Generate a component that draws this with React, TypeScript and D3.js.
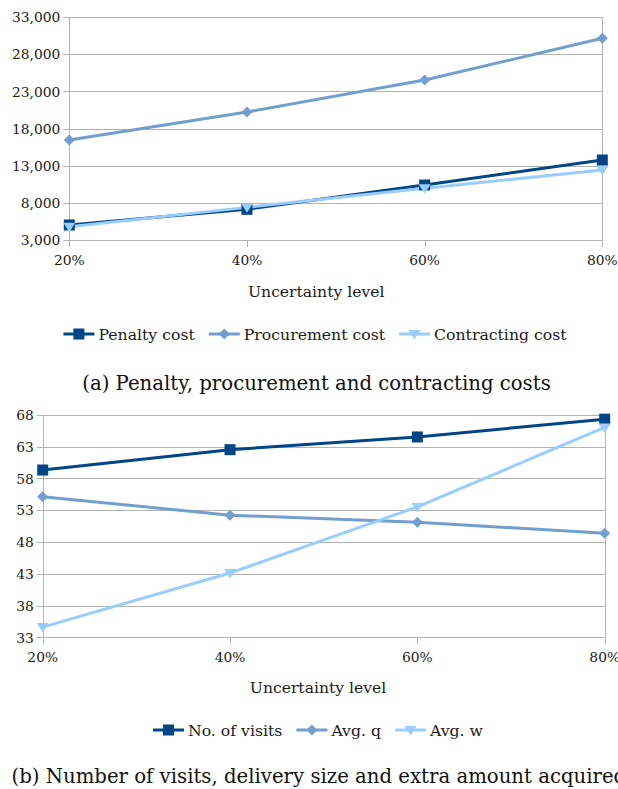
import React, { useEffect, useRef } from "react";
import * as d3 from "d3";

// Shared x categories
const levels = ["20%", "40%", "60%", "80%"];

// Panel (a): costs
const penaltyCost = [5020, 7130, 10400, 13760];
const procurementCost = [16450, 20220, 24520, 30130];
const contractingCost = [4790, 7390, 9950, 12420];
const costTicks = [3000, 8000, 13000, 18000, 23000, 28000, 33000];

// Panel (b): visits and quantities
const visits = [59.3, 62.5, 64.5, 67.3];
const avgQ = [55.1, 52.2, 51.1, 49.35];
const avgW = [34.6, 43.1, 53.5, 66.0];
const qtyTicks = [33, 38, 43, 48, 53, 58, 63, 68];

const xLabel = "Uncertainty level";
const captionA = "(a) Penalty, procurement and contracting costs";
const captionB = "(b) Number of visits, delivery size and extra amount acquired";

const DARK = "#004586";
const MID = "#729fcf";
const LIGHT = "#99ccff";
const GRID = "#b3b3b3";
const FONT = "DejaVu Serif";

type Marker = "square" | "diamond" | "triangle";
interface Series {
  name: string;
  values: number[];
  color: string;
  marker: Marker;
}

interface PanelCfg {
  left: number;
  right: number;
  top: number;
  bottom: number;
  ticks: number[];
  tickFormat: (v: number) => string;
  series: Series[];
  xLabelX: number;
  xLabelY: number;
  legendCx: number;
  legendY: number;
  caption: string;
  captionX: number;
  captionY: number;
  captionAnchor: string;
}

function drawMarker(
  g: d3.Selection<SVGGElement, unknown, null, undefined>,
  kind: Marker,
  x: number,
  y: number,
  color: string
) {
  if (kind === "square") {
    g.append("rect")
      .attr("x", x - 5.5)
      .attr("y", y - 5.5)
      .attr("width", 11)
      .attr("height", 11)
      .attr("fill", color);
  } else if (kind === "diamond") {
    g.append("path")
      .attr("d", `M${x},${y - 5.5}L${x + 5.5},${y}L${x},${y + 5.5}L${x - 5.5},${y}Z`)
      .attr("fill", color);
  } else {
    g.append("path")
      .attr("d", `M${x - 6},${y - 4}L${x + 6},${y - 4}L${x},${y + 5.5}Z`)
      .attr("fill", color);
  }
}

function drawPanel(
  svg: d3.Selection<SVGSVGElement, unknown, null, undefined>,
  cfg: PanelCfg
) {
  const g = svg.append("g");
  const x = d3.scalePoint<string>().domain(levels).range([cfg.left, cfg.right]);
  const y = d3
    .scaleLinear()
    .domain([cfg.ticks[0], cfg.ticks[cfg.ticks.length - 1]])
    .range([cfg.bottom, cfg.top]);

  // horizontal gridlines
  g.selectAll("line.grid")
    .data(cfg.ticks)
    .join("line")
    .attr("x1", cfg.left)
    .attr("x2", cfg.right)
    .attr("y1", (d) => Math.round(y(d)) + 0.5)
    .attr("y2", (d) => Math.round(y(d)) + 0.5)
    .attr("stroke", GRID)
    .attr("stroke-width", 1);

  // left axis and right border
  [cfg.left, cfg.right].forEach((px) => {
    g.append("line")
      .attr("x1", Math.round(px) + 0.5)
      .attr("x2", Math.round(px) + 0.5)
      .attr("y1", cfg.top)
      .attr("y2", cfg.bottom)
      .attr("stroke", GRID);
  });

  // y ticks and labels
  cfg.ticks.forEach((t) => {
    const py = Math.round(y(t)) + 0.5;
    g.append("line")
      .attr("x1", cfg.left - 6)
      .attr("x2", cfg.left)
      .attr("y1", py)
      .attr("y2", py)
      .attr("stroke", GRID);
    g.append("text")
      .attr("x", cfg.left - 9)
      .attr("y", y(t) + 5.2)
      .attr("text-anchor", "end")
      .attr("font-family", FONT)
      .attr("font-size", 13.8)
      .attr("fill", "#1a1a1a")
      .text(cfg.tickFormat(t));
  });

  // x ticks and labels
  levels.forEach((l) => {
    const px = Math.round(x(l)!) + 0.5;
    g.append("line")
      .attr("x1", px)
      .attr("x2", px)
      .attr("y1", cfg.bottom)
      .attr("y2", cfg.bottom + 7)
      .attr("stroke", GRID);
    g.append("text")
      .attr("x", x(l)!)
      .attr("y", cfg.bottom + 24.5)
      .attr("text-anchor", "middle")
      .attr("font-family", FONT)
      .attr("font-size", 13.8)
      .attr("fill", "#1a1a1a")
      .text(l);
  });

  // series lines and markers
  const line = d3
    .line<number>()
    .x((_, i) => x(levels[i])!)
    .y((d) => y(d));
  cfg.series.forEach((s) => {
    g.append("path")
      .attr("d", line(s.values))
      .attr("fill", "none")
      .attr("stroke", s.color)
      .attr("stroke-width", 3)
      .attr("stroke-linejoin", "round");
  });
  cfg.series.forEach((s) => {
    s.values.forEach((v, i) => drawMarker(g, s.marker, x(levels[i])!, y(v), s.color));
  });

  // axis title
  g.append("text")
    .attr("x", cfg.xLabelX)
    .attr("y", cfg.xLabelY)
    .attr("text-anchor", "middle")
    .attr("font-family", FONT)
    .attr("font-size", 15.6)
    .attr("fill", "#1a1a1a")
    .text(xLabel);

  // legend: measure items, then center the row
  const lg = g.append("g");
  const items = cfg.series.map((s) => {
    const ig = lg.append("g");
    ig.append("line")
      .attr("x1", 0)
      .attr("x2", 31)
      .attr("y1", cfg.legendY)
      .attr("y2", cfg.legendY)
      .attr("stroke", s.color)
      .attr("stroke-width", 3);
    drawMarker(ig, s.marker, 15.5, cfg.legendY, s.color);
    const t = ig
      .append("text")
      .attr("x", 35)
      .attr("y", cfg.legendY + 5.8)
      .attr("font-family", FONT)
      .attr("font-size", 15.7)
      .attr("fill", "#1a1a1a")
      .text(s.name);
    const w = 35 + (t.node() as SVGTextElement).getComputedTextLength();
    return { ig, w };
  });
  const gap = 14;
  const total = items.reduce((a, b) => a + b.w, 0) + gap * (items.length - 1);
  let cx = cfg.legendCx - total / 2;
  items.forEach((it) => {
    it.ig.attr("transform", `translate(${cx},0)`);
    cx += it.w + gap;
  });

  // caption
  g.append("text")
    .attr("x", cfg.captionX)
    .attr("y", cfg.captionY)
    .attr("text-anchor", cfg.captionAnchor)
    .attr("font-family", FONT)
    .attr("font-size", 19.7)
    .attr("fill", "#111")
    .text(cfg.caption);
}

export default function App() {
  const ref = useRef<SVGSVGElement>(null);
  useEffect(() => {
    if (!ref.current) return;
    const svg = d3.select(ref.current);
    svg.selectAll("*").remove();
    svg.append("rect").attr("width", 618).attr("height", 789).attr("fill", "#fff");

    drawPanel(svg, {
      left: 69.3,
      right: 602.3,
      top: 17,
      bottom: 240,
      ticks: costTicks,
      tickFormat: d3.format(","),
      series: [
        { name: "Penalty cost", values: penaltyCost, color: DARK, marker: "square" },
        { name: "Procurement cost", values: procurementCost, color: MID, marker: "diamond" },
        { name: "Contracting cost", values: contractingCost, color: LIGHT, marker: "triangle" },
      ],
      xLabelX: 316.2,
      xLabelY: 296.7,
      legendCx: 315,
      legendY: 334,
      caption: captionA,
      captionX: 316.5,
      captionY: 390,
      captionAnchor: "middle",
    });

    drawPanel(svg, {
      left: 42.7,
      right: 604.7,
      top: 414.7,
      bottom: 637.3,
      ticks: qtyTicks,
      tickFormat: d3.format("d"),
      series: [
        { name: "No. of visits", values: visits, color: DARK, marker: "square" },
        { name: "Avg. q", values: avgQ, color: MID, marker: "diamond" },
        { name: "Avg. w", values: avgW, color: LIGHT, marker: "triangle" },
      ],
      xLabelX: 318,
      xLabelY: 692.5,
      legendCx: 318,
      legendY: 730,
      caption: captionB,
      captionX: 11.5,
      captionY: 783.3,
      captionAnchor: "start",
    });
  }, []);

  return (
    <svg
      ref={ref}
      width={618}
      height={789}
      style={{ position: "absolute", left: 0, top: 0, display: "block" }}
    />
  );
}
